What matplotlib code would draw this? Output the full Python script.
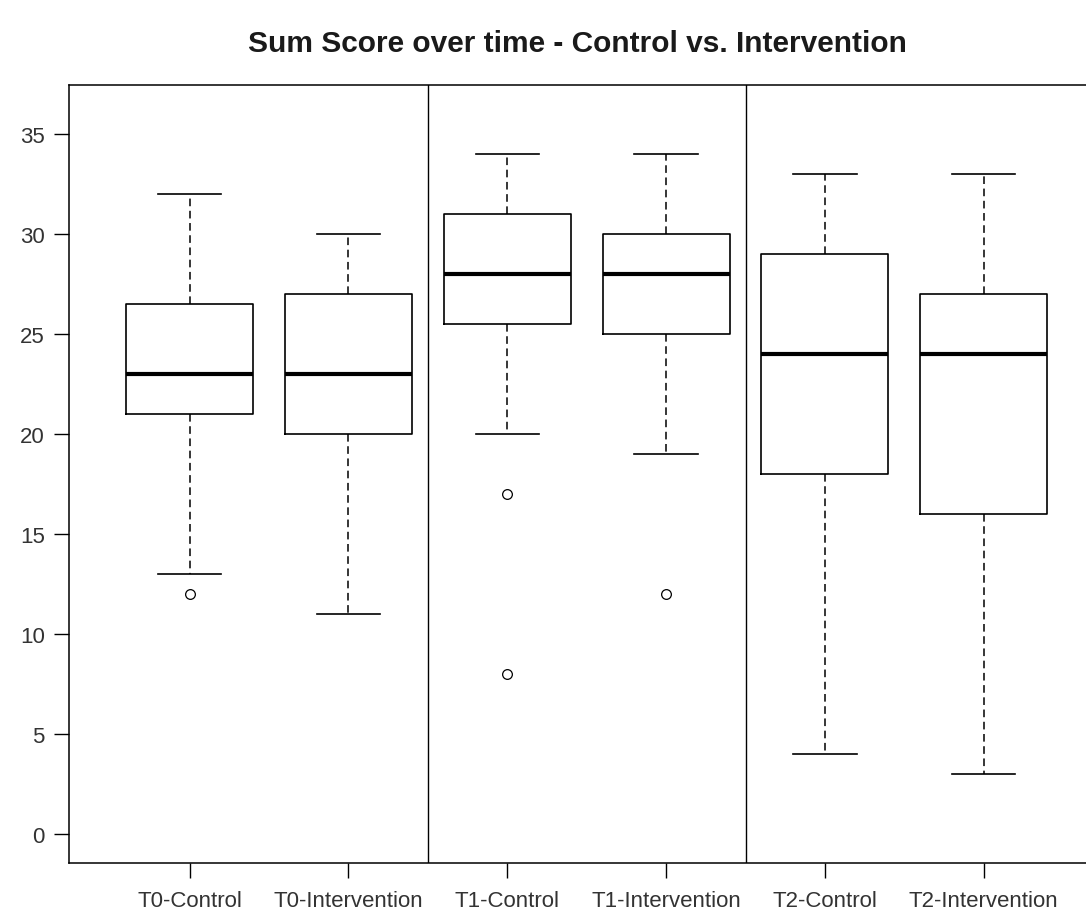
import numpy as np
import matplotlib
matplotlib.use("Agg")
import matplotlib.pyplot as plt

plt.rcParams['font.family'] = ['Liberation Sans', 'DejaVu Sans']

# values
groups = ["T0-Control", "T0-Intervention", "T1-Control",
          "T1-Intervention", "T2-Control", "T2-Intervention"]
whisker_low = [13, 11, 20, 19, 4, 3]
q1 = [21, 20, 25.5, 25, 18, 16]
median = [23, 23, 28, 28, 24, 24]
q3 = [26.5, 27, 31, 30, 29, 27]
whisker_high = [32, 30, 34, 34, 33, 33]
outliers = [[12], [], [17, 8], [12], [], []]

title = "Sum Score over time - Control vs. Intervention"

stats = []
for i in range(len(groups)):
    stats.append({
        "label": groups[i],
        "whislo": whisker_low[i],
        "q1": q1[i],
        "med": median[i],
        "q3": q3[i],
        "whishi": whisker_high[i],
        "fliers": outliers[i],
    })

fig = plt.figure(figsize=(10.86, 9.2), dpi=100)
ax = fig.add_axes([69 / 1086, 1 - 864 / 920, 1035.4 / 1086, (864 - 86) / 920])

ax.bxp(stats, positions=range(1, 7), widths=0.8, patch_artist=False,
       boxprops=dict(color="black", linewidth=1.2),
       medianprops=dict(color="black", linewidth=3),
       whiskerprops=dict(color="black", linewidth=1.1, linestyle=(0, (5, 3))),
       capprops=dict(color="black", linewidth=1.2),
       capwidths=0.4,
       flierprops=dict(marker="o", markersize=7, markerfacecolor="none",
                       markeredgecolor="black", markeredgewidth=0.9))

# separators between time points
for xv in [2.5, 4.5]:
    ax.axvline(xv, color="black", linewidth=1.0)

ax.set_xlim(0.24, 6.76)
ax.set_ylim(-1.44, 37.44)
ax.set_yticks(np.arange(0, 36, 5))
ax.set_xticks(range(1, 7))
ax.set_xticklabels(groups)

for sp in ax.spines.values():
    sp.set_linewidth(1.1)

ax.tick_params(axis="both", direction="out", length=10.5, width=1.0,
               labelsize=16, labelcolor="#333333")
ax.tick_params(axis="x", pad=9)
ax.tick_params(axis="y", pad=7)

fig.text(577 / 1086, 1 - 44 / 920, title, ha="center", va="center",
         fontsize=21.5, fontweight="bold", color="#1a1a1a")

fig.savefig("out.png", dpi=100)
